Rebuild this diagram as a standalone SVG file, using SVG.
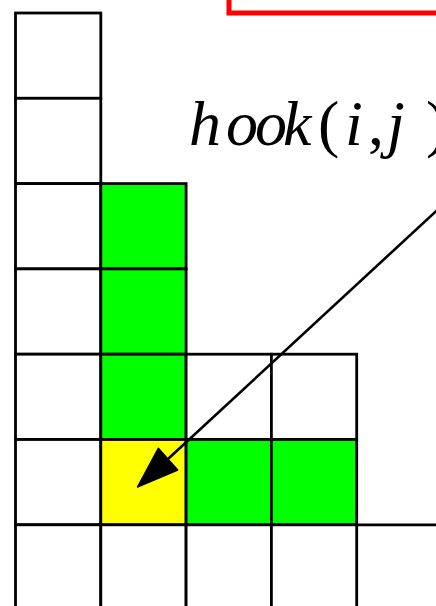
<svg xmlns="http://www.w3.org/2000/svg" width="436" height="606" viewBox="0 0 436 606">
<style>
.c{stroke:#000;stroke-width:2.8;fill:#fff}
.g{fill:#00ff00}
.y{fill:#ffff00}
.t{font-family:"Liberation Serif",serif;font-size:64px;fill:#000}
.it{font-style:italic}
</style>
<rect width="436" height="606" fill="#fff"/>
<g id="box">
<rect x="229" y="-30" width="300" height="43" fill="none" stroke="#ff0000" stroke-width="5"/>
</g>
<g id="grid">
<rect class="c" x="15.5" y="13" width="85.3" height="85.3"/>
<rect class="c" x="15.5" y="98.3" width="85.3" height="85.3"/>
<rect class="c" x="15.5" y="183.6" width="85.3" height="85.3"/>
<rect class="c" x="15.5" y="268.9" width="85.3" height="85.3"/>
<rect class="c" x="15.5" y="354.2" width="85.3" height="85.3"/>
<rect class="c" x="15.5" y="439.5" width="85.3" height="85.3"/>
<rect class="c" x="15.5" y="524.8" width="85.3" height="85.3"/>
<rect class="c g" x="100.8" y="183.6" width="85.3" height="85.3"/>
<rect class="c g" x="100.8" y="268.9" width="85.3" height="85.3"/>
<rect class="c g" x="100.8" y="354.2" width="85.3" height="85.3"/>
<rect class="c y" x="100.8" y="439.5" width="85.3" height="85.3"/>
<rect class="c" x="100.8" y="524.8" width="85.3" height="85.3"/>
<rect class="c" x="186.1" y="354.2" width="85.3" height="85.3"/>
<rect class="c g" x="186.1" y="439.5" width="85.3" height="85.3"/>
<rect class="c" x="186.1" y="524.8" width="85.3" height="85.3"/>
<rect class="c" x="271.4" y="354.2" width="85.3" height="85.3"/>
<rect class="c g" x="271.4" y="439.5" width="85.3" height="85.3"/>
<rect class="c" x="271.4" y="524.8" width="85.3" height="85.3"/>
<line x1="356.7" y1="524.8" x2="440" y2="524.8" stroke="#000" stroke-width="2.8"/>
</g>
<g id="label">
<text class="t" y="145"><tspan class="it" x="189">h</tspan><tspan class="it" x="226">o</tspan><tspan class="it" x="255">o</tspan><tspan class="it" x="283">k</tspan><tspan x="318">(</tspan><tspan class="it" x="345">i</tspan><tspan x="368">,</tspan><tspan class="it" x="387">j</tspan><tspan x="426">)</tspan></text>
</g>
<g id="connectors">
<line x1="168" y1="459" x2="446" y2="202" stroke="#000" stroke-width="2.6"/>
<polygon points="137.5,487 158.3,448.3 177.7,470" fill="#000" stroke="#000" stroke-width="1.5" stroke-linejoin="round"/>
</g>
</svg>
